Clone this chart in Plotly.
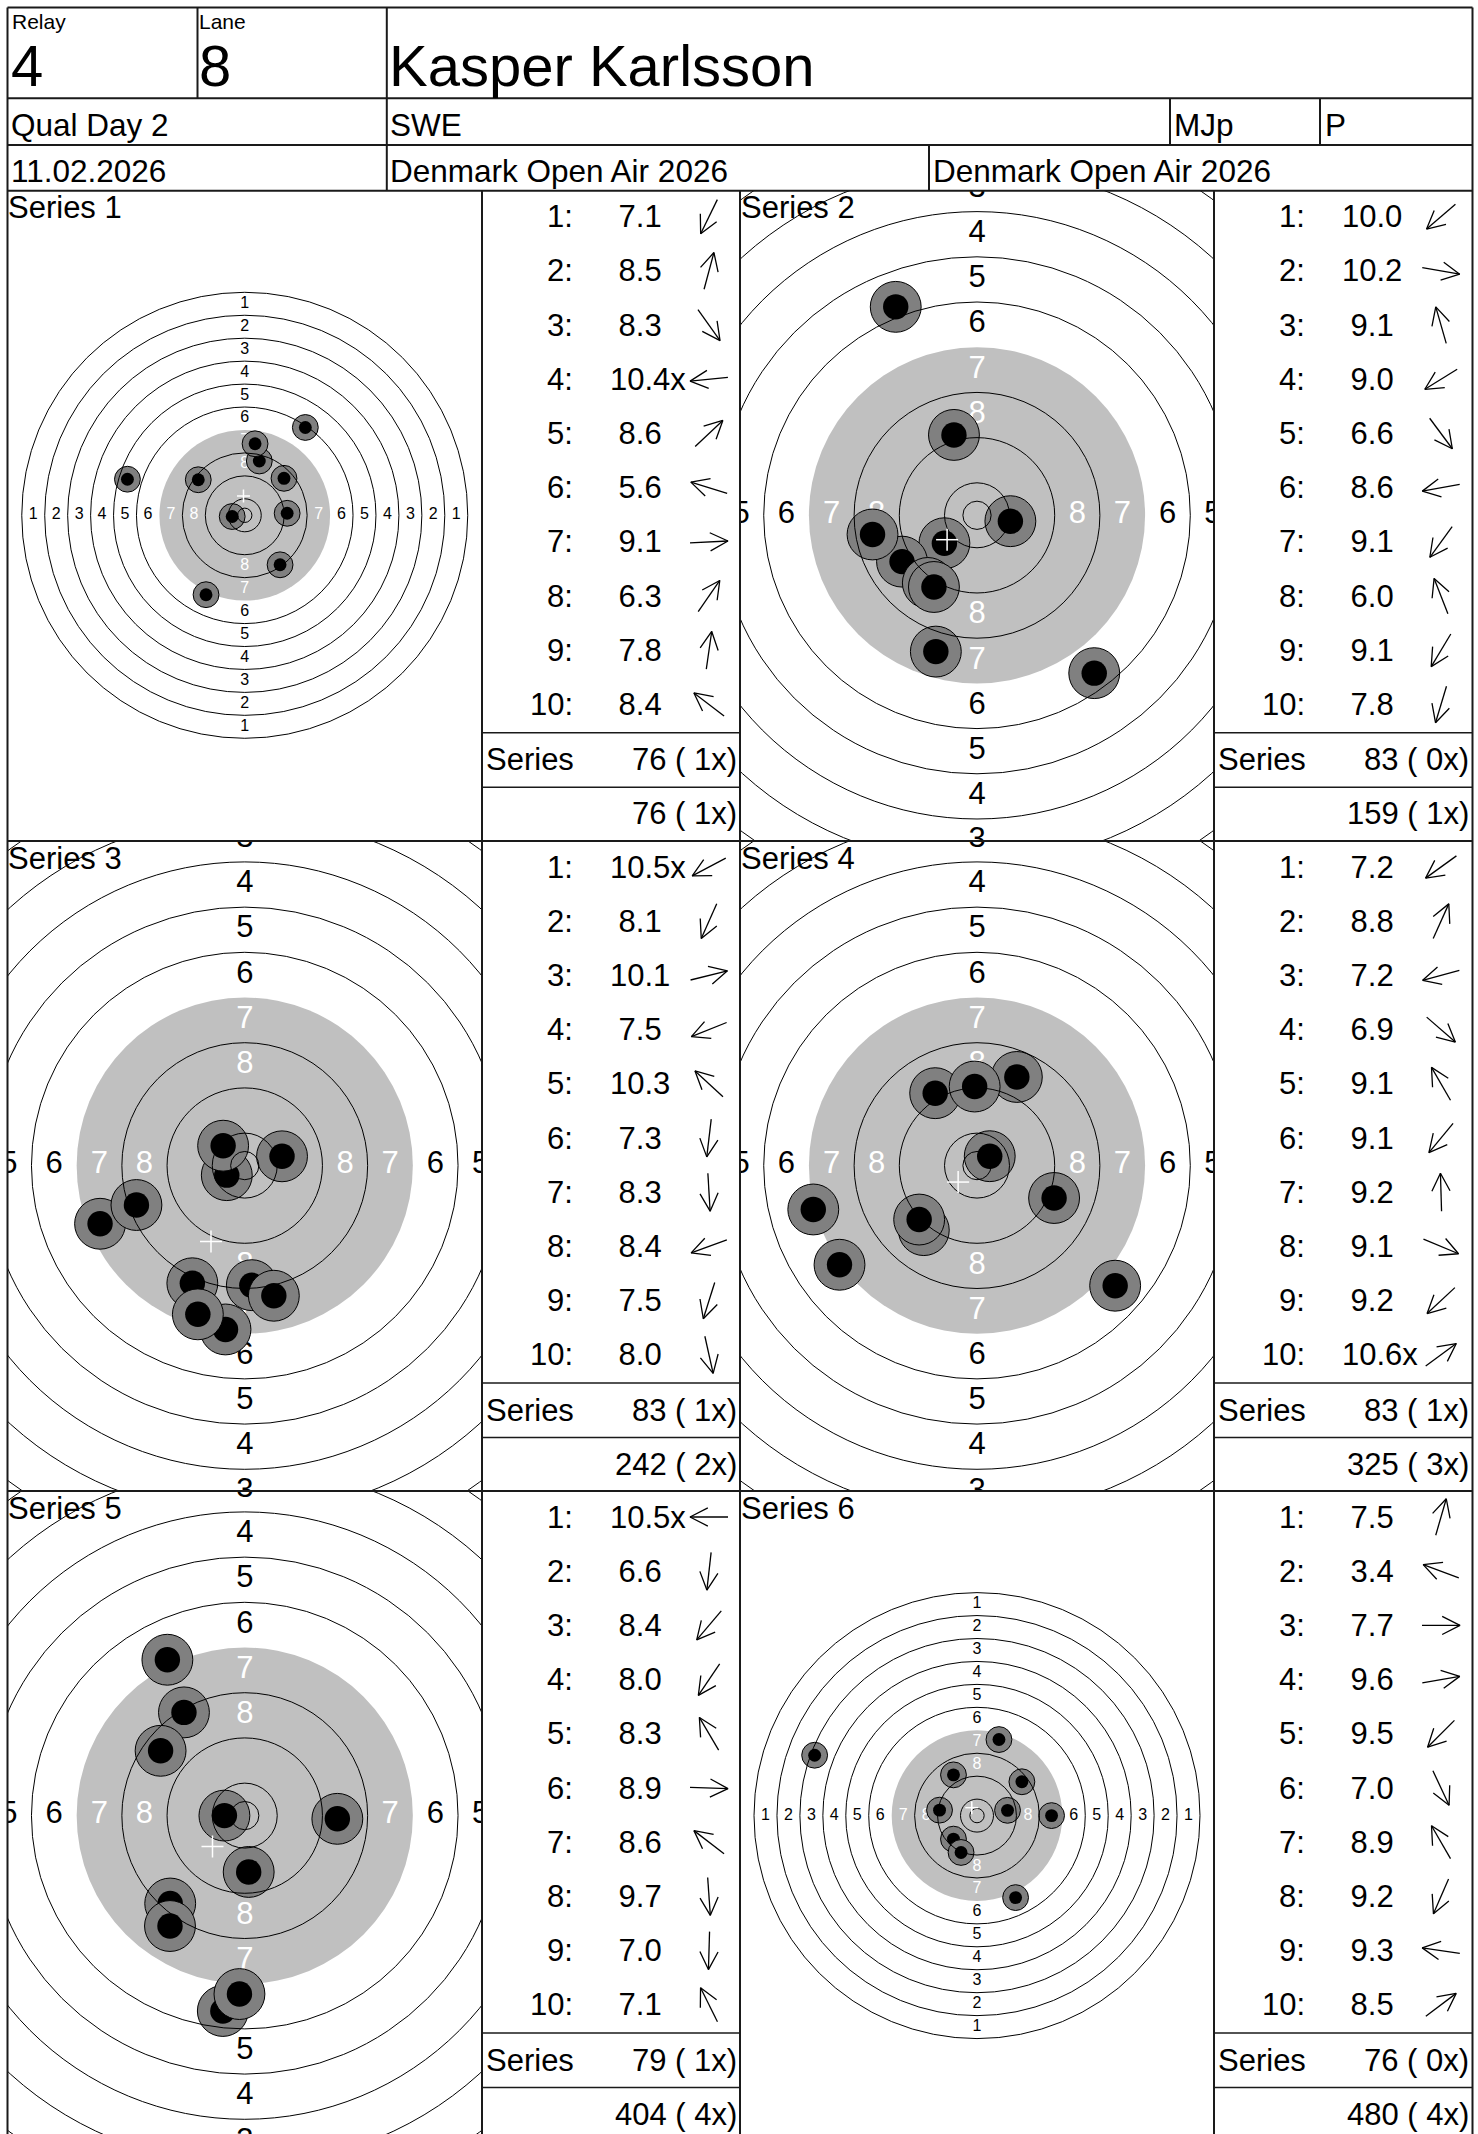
import math
import plotly.graph_objects as go

W, H = 1478, 2134
FONT = "Liberation Sans, Arial, Helvetica, sans-serif"

# ---------------- header data ----------------
relay_label, relay_value = "Relay", "4"
lane_label, lane_value = "Lane", "8"
shooter_name = "Kasper Karlsson"
event_name = "Qual Day 2"
nation = "SWE"
class_code = "MJp"
discipline = "P"
match_date = "11.02.2026"
competition_left = "Denmark Open Air 2026"
competition_right = "Denmark Open Air 2026"

# ---------------- series data ----------------
series_labels = ["Series 1", "Series 2", "Series 3", "Series 4", "Series 5", "Series 6"]
series_views = ["wide", "close", "close", "close", "close", "wide"]

# decimal scores per shot
scores_s1 = [7.1, 8.5, 8.3, 10.4, 8.6, 5.6, 9.1, 6.3, 7.8, 8.4]
scores_s2 = [10.0, 10.2, 9.1, 9.0, 6.6, 8.6, 9.1, 6.0, 9.1, 7.8]
scores_s3 = [10.5, 8.1, 10.1, 7.5, 10.3, 7.3, 8.3, 8.4, 7.5, 8.0]
scores_s4 = [7.2, 8.8, 7.2, 6.9, 9.1, 9.1, 9.2, 9.1, 9.2, 10.6]
scores_s5 = [10.5, 6.6, 8.4, 8.0, 8.3, 8.9, 8.6, 9.7, 7.0, 7.1]
scores_s6 = [7.5, 3.4, 7.7, 9.6, 9.5, 7.0, 8.9, 9.2, 9.3, 8.5]

# direction of each shot from the target centre (degrees, counter-clockwise from 3 o'clock)
angles_s1 = [244, 75, -54.5, 185.6, 43.3, 162.9, 2.7, 55.4, 81.8, 142.6]
angles_s2 = [220.6, -10, 106, 211.7, -53.4, 190.4, 234, 111.3, 239, 253.2]
angles_s3 = [208, 246, 14, 201.9, 137.4, 263.3, 273.4, 200, 252.5, 282.6]
angles_s4 = [215.8, 65.8, 195, -41, 120, 230.5, 91.7, -22.8, 223, 36.4]
angles_s5 = [180, 263.6, 229.7, 235.9, 120.5, -2, 142.4, 274, 268.3, 116.4]
angles_s6 = [73.9, 159.6, 0, 9.8, 225, -64.8, 120, 246.6, 171.7, 37]

# inner-ten flags
inner_s1 = [0, 0, 0, 1, 0, 0, 0, 0, 0, 0]
inner_s2 = [0, 0, 0, 0, 0, 0, 0, 0, 0, 0]
inner_s3 = [1, 0, 0, 0, 0, 0, 0, 0, 0, 0]
inner_s4 = [0, 0, 0, 0, 0, 0, 0, 0, 0, 1]
inner_s5 = [1, 0, 0, 0, 0, 0, 0, 0, 0, 0]
inner_s6 = [0, 0, 0, 0, 0, 0, 0, 0, 0, 0]

series_totals = [76, 83, 83, 83, 79, 76]
series_inner = [1, 0, 1, 1, 1, 0]
running_totals = [76, 159, 242, 325, 404, 480]
running_inner = [1, 1, 2, 3, 4, 4]

ring_numbers = [1, 2, 3, 4, 5, 6, 7, 8, 9, 10]

all_scores = [scores_s1, scores_s2, scores_s3, scores_s4, scores_s5, scores_s6]
all_angles = [angles_s1, angles_s2, angles_s3, angles_s4, angles_s5, angles_s6]
all_inner = [inner_s1, inner_s2, inner_s3, inner_s4, inner_s5, inner_s6]

# ---------------- target geometry (10 m air pistol, mm) ----------------
R10 = 5.75
RING_W = 8.0
R_X = 2.5
R_BLACK = 29.75
HOLE_OUT = 9.0
HOLE_IN = 4.5


def ring_radius(k):
    return R10 + (10 - k) * RING_W


def shot_distance(score):
    return (10.95 - score) * RING_W


# ---------------- page layout (px) ----------------
LEFT, RIGHT, TOP = 7.5, 1472.5, 7.5
HDR_Y = [98.3, 145.0, 190.7]
ROW_TOPS = [190.7, 841.0, 1491.0]
ROW_H = 650.0
TARGET_X = [(7.5, 482.0), (740.0, 1214.0)]
SCORE_X = [(482.0, 740.0), (1214.0, RIGHT)]
SCALE = {"wide": 2.868, "close": 5.65}
LABEL_SIZE = {"wide": 16, "close": 31}
CROSS_PX = {"wide": 6.5, "close": 11}

fig = go.Figure()
layout = dict(width=W, height=H, margin=dict(l=0, r=0, t=0, b=0),
              paper_bgcolor="white", plot_bgcolor="rgba(0,0,0,0)", showlegend=False)
shapes = []
annotations = []

PAGE = 7  # overlay axis index for page pixel coordinates


def ax_names(k):
    return ("x" if k == 1 else f"x{k}"), ("y" if k == 1 else f"y{k}")


def txt(x, y, s, size, anchor="left", color="black"):
    annotations.append(dict(x=x, y=y, xref=f"x{PAGE}", yref=f"y{PAGE}", text=s, showarrow=False,
                            xanchor=anchor, yanchor="middle", borderpad=0, borderwidth=0,
                            font=dict(family=FONT, size=size, color=color)))


def txt_base(x, baseline, s, size, anchor="left", color="black"):
    txt(x, baseline - 0.3465 * size, s, size, anchor, color)


def pline(x0, y0, x1, y1, width=1.6, color="#1a1a1a"):
    shapes.append(dict(type="line", xref=f"x{PAGE}", yref=f"y{PAGE}", x0=x0, y0=y0, x1=x1, y1=y1,
                       line=dict(color=color, width=width), layer="above"))


# ---------------- target subplots ----------------
for i in range(6):
    k = i + 1
    row, col = divmod(i, 2)
    view = series_views[i]
    s = SCALE[view]
    x0, x1 = TARGET_X[col]
    y0 = ROW_TOPS[row]
    y1 = min(y0 + ROW_H, H)
    cx = (x0 + x1) / 2
    cy = y0 + 324.6
    xa, ya = ax_names(k)
    layout["xaxis" if k == 1 else f"xaxis{k}"] = dict(
        domain=[x0 / W, x1 / W], range=[(x0 - cx) / s, (x1 - cx) / s],
        visible=False, fixedrange=True, anchor=ya)
    layout["yaxis" if k == 1 else f"yaxis{k}"] = dict(
        domain=[1 - y1 / H, 1 - y0 / H], range=[(cy - y1) / s, (cy - y0) / s],
        visible=False, fixedrange=True, anchor=xa)

    # black (grey) aiming area
    shapes.append(dict(type="circle", xref=xa, yref=ya, x0=-R_BLACK, y0=-R_BLACK, x1=R_BLACK, y1=R_BLACK,
                       fillcolor="#c0c0c0", line=dict(width=0), layer="below"))

    # ring numbers
    lx, ly, lt, lc = [], [], [], []
    for rn in ring_numbers[:8]:
        m = ring_radius(rn) - RING_W / 2
        for (px, py) in [(0, m), (0, -m), (-m, 0), (m, 0)]:
            lx.append(px); ly.append(py); lt.append(str(rn))
            lc.append("white" if rn >= 7 else "black")
    fig.add_trace(go.Scatter(x=lx, y=ly, text=lt, mode="text", xaxis=xa, yaxis=ya,
                             textposition="middle center", hoverinfo="skip",
                             textfont=dict(family=FONT, size=LABEL_SIZE[view], color=lc)))

    # shot holes
    hx, hy, hs, hc, hw = [], [], [], [], []
    sx, sy = [], []
    for sc, an in zip(all_scores[i], all_angles[i]):
        d = shot_distance(sc)
        px = d * math.cos(math.radians(an))
        py = d * math.sin(math.radians(an))
        sx.append(px); sy.append(py)
        hx += [px, px]; hy += [py, py]
        hs += [HOLE_OUT * s, HOLE_IN * s]
        hc += ["#808080", "#000000"]
        hw += [1, 0]
    fig.add_trace(go.Scatter(x=hx, y=hy, mode="markers", xaxis=xa, yaxis=ya, hoverinfo="skip",
                             marker=dict(size=hs, color=hc, opacity=1,
                                         line=dict(color="#000000", width=hw))))

    # ring lines (drawn above holes)
    radii = [ring_radius(rn) for rn in ring_numbers if rn != 7] + [R_X]
    for r in radii:
        shapes.append(dict(type="circle", xref=xa, yref=ya, x0=-r, y0=-r, x1=r, y1=r,
                           line=dict(color="black", width=1), layer="above"))

    # mean point of impact
    mx = sum(sx) / len(sx)
    my = sum(sy) / len(sy)
    c = CROSS_PX[view] / s
    shapes.append(dict(type="line", xref=xa, yref=ya, x0=mx - c, x1=mx + c, y0=my, y1=my,
                       line=dict(color="white", width=1.5), layer="above"))
    shapes.append(dict(type="line", xref=xa, yref=ya, x0=mx, x1=mx, y0=my - c, y1=my + c,
                       line=dict(color="white", width=1.5), layer="above"))

# ---------------- page overlay axis ----------------
layout[f"xaxis{PAGE}"] = dict(domain=[0, 1], range=[0, W], visible=False, fixedrange=True, anchor=f"y{PAGE}")
layout[f"yaxis{PAGE}"] = dict(domain=[0, 1], range=[H, 0], visible=False, fixedrange=True, anchor=f"x{PAGE}")

# header grid
pline(LEFT, TOP, RIGHT, TOP, 2)
for y in HDR_Y:
    pline(LEFT, y, RIGHT, y, 2)
pline(LEFT, TOP, LEFT, H + 10, 2)
pline(RIGHT, TOP, RIGHT, H + 10, 2)
pline(197.5, TOP, 197.5, HDR_Y[0], 2)
pline(386.8, TOP, 386.8, HDR_Y[2], 2)
pline(1170, HDR_Y[0], 1170, HDR_Y[1], 2)
pline(1320, HDR_Y[0], 1320, HDR_Y[1], 2)
pline(929, HDR_Y[1], 929, HDR_Y[2], 2)

# header texts
txt_base(12.3, 29, relay_label, 21)
txt_base(11.2, 86, relay_value, 58)
txt_base(199.0, 29, lane_label, 21)
txt_base(198.5, 86, lane_value, 58)
txt_base(389, 86, shooter_name, 58)
txt_base(11.2, 135.5, event_name, 31.5)
txt_base(389.6, 135.5, nation, 31.5)
txt_base(1173.7, 135.5, class_code, 31.5)
txt_base(1324.6, 135.5, discipline, 31.5)
txt_base(11.2, 181.7, match_date, 31.5)
txt_base(389.6, 181.7, competition_left, 31.5)
txt_base(932.6, 181.7, competition_right, 31.5)

# panel grid
for y in ROW_TOPS[1:]:
    pline(LEFT, y, RIGHT, y, 2)
for x in [482.0, 740.0, 1214.0]:
    pline(x, HDR_Y[2], x, H + 10, 2)

# score columns
ax_x, ax_y = [], []
for i in range(6):
    row, col = divmod(i, 2)
    top = ROW_TOPS[row]
    sx0, sx1 = SCORE_X[col]
    tx0 = TARGET_X[col][0]
    txt_base(tx0 + 0.8, top + 28, series_labels[i], 31)
    for j, (sc, an, inn) in enumerate(zip(all_scores[i], all_angles[i], all_inner[i])):
        ry = top + 26 + 54.2 * j
        txt(sx0 + 91, ry, f"{j + 1}:", 31, "right")
        val = f"{sc:.1f}" + ("x" if inn else "")
        if sc < 10:
            val = "\u00a0" + val
        txt(sx0 + 128, ry, val, 31, "left")
        # direction arrow
        cxp, cyp = sx0 + 227, ry
        ux, uy = math.cos(math.radians(an)), -math.sin(math.radians(an))
        tail = (cxp - 19 * ux, cyp - 19 * uy)
        tip = (cxp + 19 * ux, cyp + 19 * uy)
        bx, by = -ux, -uy
        heads = []
        for sgn in (1, -1):
            a = math.radians(27 * sgn)
            hxv = bx * math.cos(a) - by * math.sin(a)
            hyv = bx * math.sin(a) + by * math.cos(a)
            heads.append((tip[0] + 20 * hxv, tip[1] + 20 * hyv))
        ax_x += [tail[0], tip[0], None, heads[0][0], tip[0], heads[1][0], None]
        ax_y += [tail[1], tip[1], None, heads[0][1], tip[1], heads[1][1], None]
    pline(sx0, top + 542, sx1, top + 542, 1.6)
    pline(sx0, top + 596.5, sx1, top + 596.5, 1.6)
    txt(sx0 + 3.5, top + 569, "Series", 31, "left")
    txt(sx0 + 254.5, top + 569, f"{series_totals[i]} (\u00a0{series_inner[i]}x)", 31, "right")
    txt(sx0 + 254.5, top + 623, f"{running_totals[i]} (\u00a0{running_inner[i]}x)", 31, "right")

fig.add_trace(go.Scatter(x=ax_x, y=ax_y, mode="lines", xaxis=f"x{PAGE}", yaxis=f"y{PAGE}",
                         line=dict(color="black", width=1.3), hoverinfo="skip"))

layout["shapes"] = shapes
layout["annotations"] = annotations
fig.update_layout(**layout)

fig.write_html("out.html", config={"displayModeBar": False, "staticPlot": True},
               post_script="document.body.style.margin='0';document.body.style.overflow='hidden';")
